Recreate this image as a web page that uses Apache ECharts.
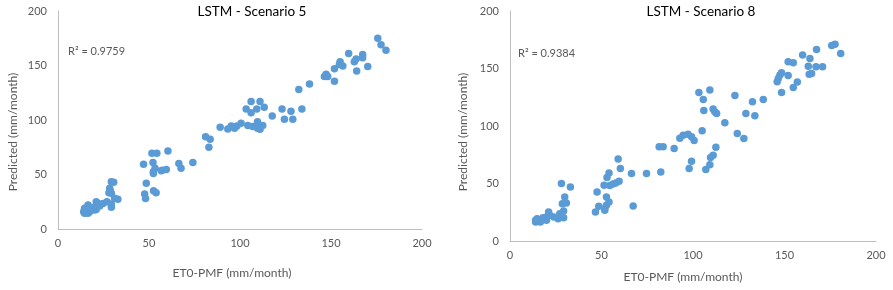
<!DOCTYPE html>
<html>
<head>
<meta charset="utf-8">
<script src="https://cdn.jsdelivr.net/npm/echarts@6/dist/echarts.min.js"></script>
<style>html,body{margin:0;padding:0;background:#fff}#c{width:893px;height:290px}</style>
</head>
<body>
<div id="c"></div>
<script>
var titles = ["LSTM - Scenario 5", "LSTM - Scenario 8"];
var r2Labels = ["R\u00b2 = 0.9759", "R\u00b2 = 0.9384"];
var xAxisName = "ET0-PMF (mm/month)";
var yAxisName = "Predicted (mm/month)";
var axisTicks = [0, 50, 100, 150, 200];

var scenario5 = [
[175.7,175],[177.5,169],[180.2,164],[159.7,161],[167.4,160],[167.4,157],[163.8,156],[162.8,153.5],
[155,153.5],[154.6,151],[156.5,149.5],[151.9,147],[170.2,149],[164.1,145],[147.3,142],[148.2,140],
[146.4,140],[151.9,135.5],[138.2,133],[132.3,128],[134,110],[128,108],[123.1,110],[124.4,100.6],
[129,100.6],[117.7,103.7],[106.1,117],[111,117],[103.4,110],[109.2,110],[106.1,106.7],[113.3,111.6],
[109.6,98.5],[104.3,95],[107,94],[112.5,95],[109.6,92.4],[111,91.4],[100.6,97],[98.3,94.5],
[95.2,94.5],[97,92.4],[93.3,91.7],[89.1,93.3],[81.1,84.7],[83.6,82.3],[82.9,75],[74.1,61],
[66.4,60],[67.6,55.7],[60.4,71.6],[54.3,69.4],[51.6,69.4],[52.2,61],[47,59.3],[53.3,55.7],
[52.4,52.6],[56.7,53.5],[59.5,54.7],[57.3,54],[52.4,51],[48.5,42],[52.5,35],[53.9,33.3],
[47.6,32],[48.1,28],[29.3,43.4],[30.6,43],[28.4,37.3],[28.7,35.2],[28,33.3],[29.3,32.7],
[31.1,28.1],[32.9,27.2],[26.9,25],[24.7,23.5],[29.3,23],[29.3,20],[22,23.5],[21,25],
[22.9,21],[19.8,20],[18.3,17.4],[16.5,22],[14.6,19],[14.1,15.9],[15.6,15],[17.4,15.9],
[15.2,17.4],[20.1,17.4],[16.5,14.4],[14.6,14.4],[21,18]
];

var scenario8 = [
[177.6,171],[175.8,170],[180.7,163],[167.5,166.6],[159.9,161.7],[163.9,158.8],[152,155.9],[154.8,155],
[163,152],[167.2,151.5],[170.8,151.5],[163.5,145],[164.8,145.7],[152,144],[148.4,146.3],[147.5,144.3],
[146.6,141.4],[146,138.5],[157,138.2],[154.8,133.5],[148.4,129.2],[138.4,123],[132.5,121],[133.8,109],
[128.9,110.9],[122.9,126.6],[117.4,102.8],[124.2,93.5],[127.8,89.1],[109.2,131.2],[103.2,129.2],[105.6,123],
[105.9,113.5],[111,114.7],[111.9,112.3],[112.9,110.9],[105,95.8],[112.5,81.6],[111,74.6],[109.6,72.6],
[109.2,66.2],[107,62.1],[99.2,69.4],[97.9,63],[100.6,87.4],[99.2,90.6],[97.3,92.9],[94.6,92],
[92.8,89.4],[89.7,80.4],[83.7,81.9],[81.5,81.9],[82.4,60.1],[74.6,58.6],[66.4,58.6],[67.3,30.5],
[59.1,71.4],[60.3,63],[59.6,52],[57.8,50.5],[56.3,49.6],[54.5,48.2],[51.4,48.5],[54.1,59.2],
[53,55.2],[47.6,42.7],[52.7,38.3],[54.1,34],[52.7,31],[51.8,28.2],[48.5,30.2],[51.8,26.7],
[46.7,25.3],[28.1,49.9],[33,47],[29.9,38.3],[30.8,33.1],[28.6,32.5],[29.3,26.1],[27.2,23.8],
[29.3,20.3],[26.3,19.4],[23.9,20.9],[21.1,25.3],[19.9,20.9],[18,20.3],[17.1,18],[14.8,19.4],
[14,18],[16.6,16.5],[14,16.5],[21.7,22.4],[19.9,18]
];

var FONT = 'Lato';
var TXT = '#595959';
var BLUE = '#5B9BD5';

function xAx(gi) {
  return {
    gridIndex: gi, type: 'value', min: axisTicks[0], max: axisTicks[axisTicks.length-1], interval: 50,
    axisLine: {show: true, lineStyle: {color: '#BFBFBF', width: 1}},
    axisTick: {show: false}, splitLine: {show: false},
    axisLabel: {color: TXT, fontFamily: FONT, fontSize: 11, margin: 9}
  };
}
function yAx(gi) {
  return {
    gridIndex: gi, type: 'value', min: axisTicks[0], max: axisTicks[axisTicks.length-1], interval: 50,
    axisLine: {show: true, lineStyle: {color: '#BFBFBF', width: 1}},
    axisTick: {show: false}, splitLine: {show: false},
    axisLabel: {color: TXT, fontFamily: FONT, fontSize: 11, margin: 11}
  };
}

var chart = echarts.init(document.getElementById('c'), null, {renderer: 'canvas'});
chart.setOption({
  animation: false,
  backgroundColor: '#fff',
  title: [
    {text: titles[0], left: 247, top: 0, textAlign: 'center', textStyle: {fontFamily: FONT, fontSize: 13.5, fontWeight: 'normal', color: '#000'}},
    {text: titles[1], left: 696, top: 0, textAlign: 'center', textStyle: {fontFamily: FONT, fontSize: 13.5, fontWeight: 'normal', color: '#000'}}
  ],
  grid: [
    {left: 58, top: 11, width: 364, height: 218},
    {left: 510, top: 11, width: 366, height: 230}
  ],
  xAxis: [xAx(0), xAx(1)],
  yAxis: [yAx(0), yAx(1)],
  graphic: [
    {type: 'text', left: 68, top: 46, style: {text: r2Labels[0], fill: TXT, font: '11px ' + FONT}},
    {type: 'text', left: 518, top: 48, style: {text: r2Labels[1], fill: TXT, font: '11px ' + FONT}},
    {type: 'text', x: 232, y: 273, style: {text: xAxisName, fill: TXT, font: '12px ' + FONT, align: 'center', verticalAlign: 'middle'}},
    {type: 'text', x: 683, y: 277, style: {text: xAxisName, fill: TXT, font: '12px ' + FONT, align: 'center', verticalAlign: 'middle'}},
    {type: 'text', x: 13, y: 132, rotation: Math.PI/2, style: {text: yAxisName, fill: TXT, font: '12px ' + FONT, align: 'center', verticalAlign: 'middle'}},
    {type: 'text', x: 463, y: 132, rotation: Math.PI/2, style: {text: yAxisName, fill: TXT, font: '12px ' + FONT, align: 'center', verticalAlign: 'middle'}}
  ],
  series: [
    {type: 'scatter', xAxisIndex: 0, yAxisIndex: 0, data: scenario5, symbolSize: 7.5, itemStyle: {color: BLUE, opacity: 1}},
    {type: 'scatter', xAxisIndex: 1, yAxisIndex: 1, data: scenario8, symbolSize: 7.5, itemStyle: {color: BLUE, opacity: 1}}
  ]
});
</script>
</body>
</html>
